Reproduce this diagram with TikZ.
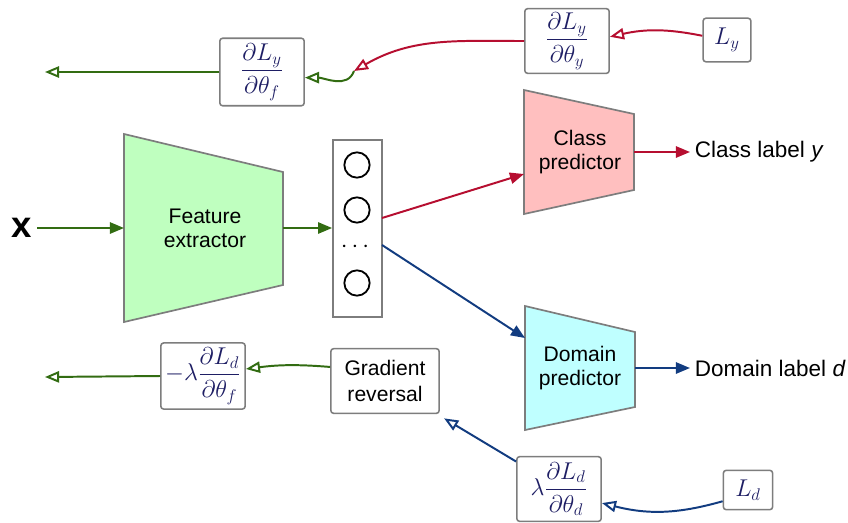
\documentclass[tikz,border=0pt]{standalone}
\usepackage{amsmath}
\usepackage{fontspec}
\setmainfont{Liberation Sans}
\usetikzlibrary{arrows.meta}
\definecolor{fgreen}{RGB}{50,108,18}
\definecolor{cred}{RGB}{182,14,48}
\definecolor{dblue}{RGB}{18,60,128}
\definecolor{mathblue}{RGB}{30,30,100}
\definecolor{boxgray}{RGB}{125,125,125}
\definecolor{fillgreen}{RGB}{191,255,191}
\definecolor{fillred}{RGB}{255,191,191}
\definecolor{fillcyan}{RGB}{191,255,255}
\tikzset{
  gradbox/.style={draw=boxgray, line width=1.1pt, rounded corners=2pt, fill=white, inner sep=2pt,
    font=\fontsize{17}{20}\selectfont, text=mathblue},
  blocktext/.style={align=center, font=\fontsize{15}{17}\selectfont},
  labeltext/.style={anchor=west, font=\fontsize{16}{19}\selectfont},
  neuron/.style={circle, draw, line width=1.3pt, minimum size=18pt, inner sep=0pt},
  trap/.style={draw=boxgray, line width=1.2pt},
  fwd/.style={line width=1.4pt, -{Triangle[length=10pt,width=8pt]}},
  bwd/.style={line width=1.4pt, -{Triangle[open,length=10pt,width=8pt]}},
}
\begin{document}
\begin{tikzpicture}[x=0.025cm, y=-0.025cm]
\useasboundingbox (0,0) rectangle (848,522);
\draw[trap, fill=fillgreen] (124,134) -- (283,172) -- (283,285) -- (124,322) -- cycle;
\draw[trap, fill=fillred] (524,90) -- (634,114) -- (634,190) -- (524,214) -- cycle;
\draw[trap, fill=fillcyan] (525,306) -- (635,332) -- (635,407) -- (525,430) -- cycle;
\node[blocktext] (fext) at (205,228) {Feature\\extractor};
\node[blocktext] (cpred) at (580,152) {Class\\predictor};
\node[blocktext] (dpred) at (580,368) {Domain\\predictor};
\coordinate (fin) at (124,228);
\coordinate (fout) at (283,228);
\coordinate (cin) at (524,174);
\coordinate (cout) at (634,152);
\coordinate (din) at (525,338);
\coordinate (dout) at (635,368);
\node[font=\fontsize{26}{26}\selectfont\bfseries] (x) at (22,228) {x};
\node[draw=boxgray, line width=1.1pt, fill=white, minimum width=35pt, minimum height=126pt] (feat) at (357.5,228.5) {};
\node[neuron] (n1) at (357,165) {};
\node[neuron] (n2) at (357,210) {};
\node[font=\fontsize{16}{16}\selectfont] (n3) at (357,247) {$\cdots$};
\node[neuron] (n4) at (357,283) {};
\coordinate (fr) at (382,218);
\coordinate (fb) at (382,245);
\node[labeltext] (cl) at (690,152) {Class label \textit{y}};
\node[labeltext] (dl) at (690,368) {Domain label \textit{d}};
\draw[fwd, fgreen] (x) -- (fin);
\draw[fwd, fgreen] (fout) -- (feat.west |- fout);
\draw[fwd, cred] (fr) -- (cin);
\draw[fwd, dblue] (fb) -- (din);
\draw[fwd, cred] (cout) -- (cl.west);
\draw[fwd, dblue] (dout) -- (dl.west);
\node[gradbox, minimum width=60pt, minimum height=48pt] (dyf) at (262,72) {$\dfrac{\partial L_y}{\partial\theta_f}$};
\node[gradbox, minimum width=60pt, minimum height=46pt] (dyy) at (567,41) {$\dfrac{\partial L_y}{\partial\theta_y}$};
\node[gradbox, minimum width=34pt, minimum height=31pt] (Ly) at (727,40) {$L_y$};
\node[gradbox, minimum width=60pt, minimum height=47pt] (dlf) at (203,376) {$-\lambda\dfrac{\partial L_d}{\partial\theta_f}$};
\node[gradbox, text=black, minimum width=77pt, minimum height=46pt, align=center,
  font=\fontsize{15}{18}\selectfont] (grl) at (385,381) {Gradient\\reversal};
\node[gradbox, minimum width=60pt, minimum height=46pt] (dld) at (559,489) {$\lambda\dfrac{\partial L_d}{\partial\theta_d}$};
\node[gradbox, minimum width=35pt, minimum height=28pt] (Ld) at (748,490) {$L_d$};
\coordinate (jy) at (354,71);
\coordinate (oy) at (45,72);
\coordinate (od) at (45,377);
\draw[bwd, cred] ([yshift=3pt]Ly.west) to[bend right=12] ([yshift=3pt]dyy.east);
\draw[bwd, cred] (dyy.west) to[out=180, in=30] (jy);
\draw[bwd, fgreen] (jy) to[out=-110, in=0] ([yshift=-4pt]dyf.east);
\draw[bwd, fgreen] (dyf.west) -- (oy);
\draw[bwd, dblue] ([yshift=-8pt]Ld.west) to[bend left=15] ([yshift=-10pt]dld.east);
\draw[bwd, dblue] ([yshift=-4pt]dld.north west) -- ([xshift=3pt,yshift=-3pt]grl.south east);
\draw[bwd, fgreen] ([yshift=10pt]grl.west) to[bend right=6] ([yshift=5pt]dlf.east);
\draw[bwd, fgreen] (dlf.west) -- (od);
\end{tikzpicture}
\end{document}
